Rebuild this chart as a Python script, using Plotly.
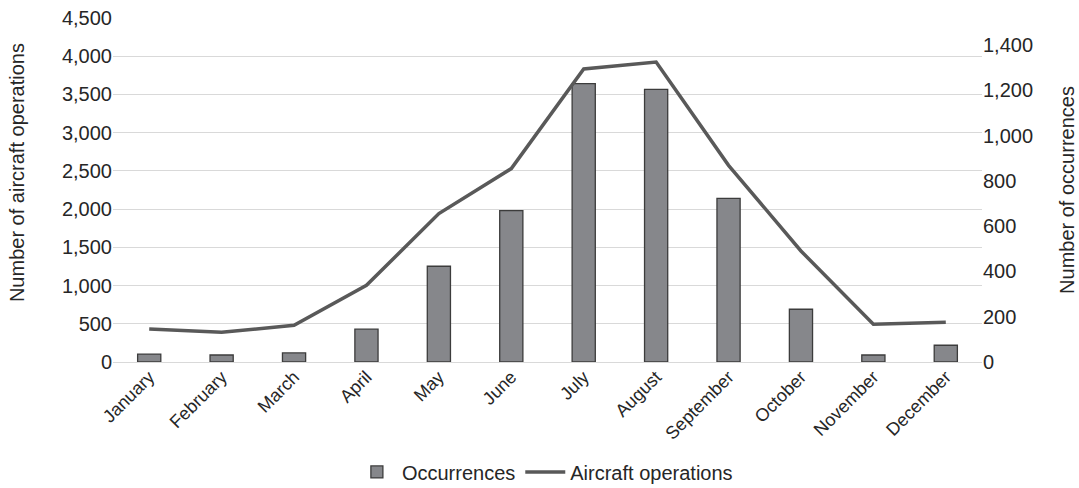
import plotly.graph_objects as go

months = ["January", "February", "March", "April", "May", "June", "July",
          "August", "September", "October", "November", "December"]
occurrences = [35, 31, 40, 145, 423, 669, 1230, 1205, 723, 233, 31, 74]
aircraft_operations = [432, 388, 480, 1003, 1941, 2530, 3833, 3924, 2573, 1452, 493, 519]

left_ticks = list(range(0, 4501, 500))
right_ticks = list(range(0, 1401, 200))

FONT = "Liberation Sans, Arial, sans-serif"
TXT = "#262626"

fig = go.Figure()
fig.add_trace(go.Bar(
    x=months, y=occurrences, name="Occurrences", yaxis="y2",
    marker=dict(color="#86878b", line=dict(color="#3c3c3c", width=1.3)),
))
fig.add_trace(go.Scatter(
    x=months, y=aircraft_operations, name="Aircraft operations", yaxis="y",
    mode="lines", line=dict(color="#595959", width=3.5),
))

fig.update_layout(
    width=1079, height=488,
    margin=dict(l=113, r=97, t=18, b=126, autoexpand=False),
    paper_bgcolor="white", plot_bgcolor="white",
    font=dict(family=FONT, size=20, color=TXT),
    bargap=0.68,
    showlegend=True,
    legend=dict(orientation="h", xref="container", yref="container",
                x=0.505, y=0.033, xanchor="center", yanchor="middle",
                font=dict(size=20, color=TXT), traceorder="normal",
                itemwidth=40),
    xaxis=dict(anchor="y2", tickangle=-45, showgrid=False, showline=False,
               ticks="", automargin=False, tickfont=dict(size=18, color=TXT)),
    yaxis2=dict(side="right", range=[0, 1520], tickvals=right_ticks,
                tickformat=",", showgrid=False, zeroline=False, showline=False,
                ticks="", automargin=False,
                title=dict(text="Number of occurrences", font=dict(size=20, color=TXT),
                           standoff=27),
                tickfont=dict(size=20, color=TXT)),
    yaxis=dict(overlaying="y2", side="left", range=[0, 4500], tickvals=left_ticks,
               tickformat=",", showgrid=True, gridcolor="#d9d9d9", gridwidth=1,
               zeroline=True, zerolinecolor="#d9d9d9", zerolinewidth=1,
               showline=False, ticks="", automargin=False,
               tickfont=dict(size=20, color=TXT)),
    annotations=[dict(text="Number of aircraft operations", textangle=-90,
                      xref="paper", yref="paper", x=-0.1105, y=0.552,
                      xanchor="center", yanchor="middle", showarrow=False,
                      font=dict(size=20, color=TXT))],
)

fig.write_html("out.html", config={"displayModeBar": False},
               post_script="document.body.style.margin='0';")
